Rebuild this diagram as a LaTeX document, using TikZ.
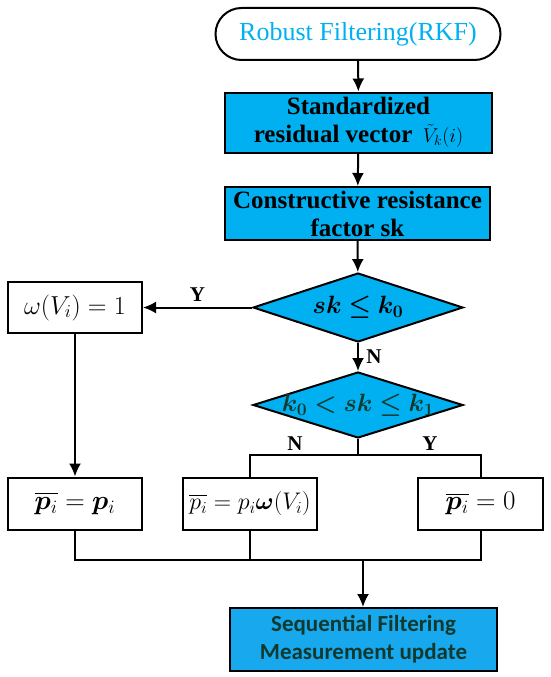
\RequirePackage{fix-cm}
\documentclass[tikz,border=0pt]{standalone}
\usepackage{amsmath,bm}
\usepackage{fontspec}
\setmainfont{Liberation Serif}
\newfontfamily\calibfont{Carlito}
\usetikzlibrary{shapes.geometric,arrows.meta}
\definecolor{boxblue}{HTML}{00B0F0}
\definecolor{lastblue}{HTML}{18A8EE}
\definecolor{darktext}{HTML}{103A30}
\begin{document}
\begin{tikzpicture}
		[x=1pt,y=-1pt,>={Latex[length=13pt,width=12pt]},line width=2pt,
		 process/.style={draw,fill=boxblue,inner sep=0pt,align=center,font=\fontsize{25}{28}\selectfont\bfseries},
		 plain/.style={draw,fill=white,inner sep=0pt,minimum width=134pt,minimum height=52pt,font=\fontsize{27}{29}\selectfont},
		 decision/.style={draw,fill=boxblue,diamond,inner sep=0pt,minimum width=210pt,minimum height=69pt},
		 answer/.style={font=\fontsize{21}{23}\selectfont\bfseries}]
		\useasboundingbox (0,0) rectangle (550,677);

		% draw the top terminal and the two process boxes
		\node[draw,rounded corners=26pt,minimum width=285pt,minimum height=52pt,inner sep=0pt,
			text=boxblue,font=\fontsize{26}{28}\selectfont] (start) at (358,34) {Robust Filtering(RKF)};
		\node[process,minimum width=267pt,minimum height=60pt] (resid) at (358.5,122.5)
			{Standardized\\ residual vector\ \,{\fontsize{20}{22}\selectfont$\tilde{V}_k(i)$}};
		\node[process,minimum width=265pt,minimum height=53pt] (factor) at (357.5,213.5)
			{Constructive resistance\\ factor sk};

		% draw the two decisions
		\node[decision,label={center:\fontsize{25}{27}\selectfont$\bm{sk \le k_0}$}] (test0) at (358,307.5) {};
		\node[decision,minimum height=66pt,
			label={center:\color{darktext}\fontsize{25}{27}\selectfont$\bm{k_0 < sk \le k_1}$}] (test1) at (358,405) {};

		% draw the weight boxes
		\node[plain,minimum height=51pt,font=\fontsize{26}{28}\selectfont] (omega) at (75,307.5) {$\omega(V_i) = 1$};
		\node[plain] (keep) at (75,503.5) {$\overline{\bm{p}_i} = \bm{p}_i$};
		\node[plain,font=\fontsize{24}{26}\selectfont] (scale) at (250,503.5) {$\overline{p_i} = p_i\bm{\omega}(V_i)$};
		\node[plain,minimum width=125pt] (zero) at (480.5,503.5) {$\overline{\bm{p}_i} = 0$};

		% draw the last box
		\node[draw,fill=lastblue,minimum width=267pt,minimum height=63pt,inner sep=0pt,align=center,
			text=darktext,font=\fontsize{23}{28}\selectfont\calibfont\bfseries] (update) at (363.5,639.5)
			{Sequential Filtering\\ Measurement update};

		% draw the connectors
		\draw[->] (start) -- (resid);
		\draw[->] (resid) -- (factor);
		\draw[->] (factor) -- (test0);
		\draw[->] (test0.west) -- node[answer,above=2pt]{Y} (omega.east);
		\draw[->] (test0.south) -- node[answer,right=4pt]{N} (test1.north);
		\draw[->] (omega.south) -- (keep.north);

		\coordinate (split) at (358,455);
		\coordinate (merge) at (363,560);
		\draw (test1.south) -- (split);
		\draw (scale.north) |- (split) -| (zero.north);
		\node[answer] at (295,444) {N};
		\node[answer] at (430,444) {Y};

		\draw (keep.south) |- (merge) -| (zero.south);
		\draw (scale.south) -- (scale.south |- merge);
		\draw[->] (merge) -- (update.north -| merge);
	\end{tikzpicture}
\end{document}
